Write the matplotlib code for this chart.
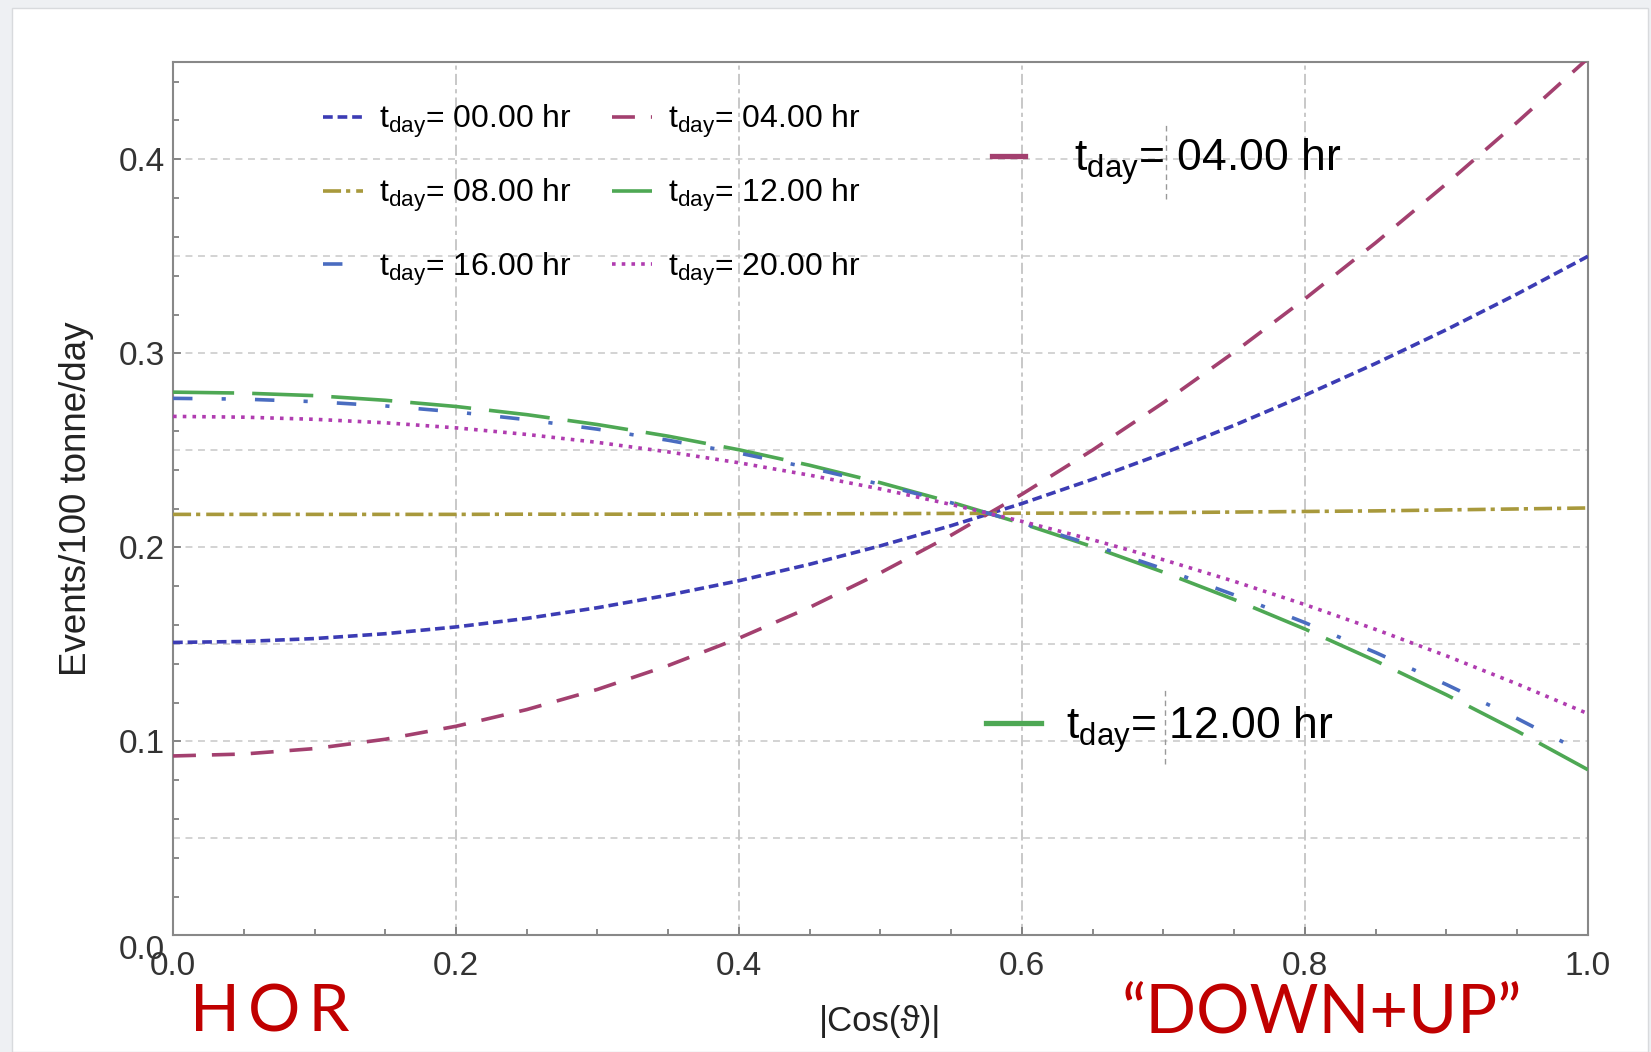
import matplotlib
matplotlib.use("Agg")
import matplotlib.pyplot as plt
from matplotlib.lines import Line2D
from matplotlib.patches import Rectangle

plt.rcParams["font.family"] = ["Liberation Sans", "DejaVu Sans"]
plt.rcParams["mathtext.fontset"] = "custom"
plt.rcParams["mathtext.rm"] = "Liberation Sans"
plt.rcParams["mathtext.default"] = "rm"
plt.rcParams["lines.scale_dashes"] = False

# |cos(theta)| sample points and event rates
cos_theta = [0.00, 0.05, 0.10, 0.15, 0.20, 0.25, 0.30, 0.35, 0.40, 0.45, 0.50,
             0.55, 0.60, 0.65, 0.70, 0.75, 0.80, 0.85, 0.90, 0.95, 1.00]
rate_00 = [0.1510, 0.1515, 0.1530, 0.1555, 0.1590, 0.1634, 0.1689, 0.1754, 0.1828, 0.1913, 0.2008,
           0.2112, 0.2226, 0.2351, 0.2485, 0.2629, 0.2784, 0.2948, 0.3122, 0.3306, 0.3500]
rate_04 = [0.0925, 0.0935, 0.0963, 0.1011, 0.1078, 0.1164, 0.1268, 0.1391, 0.1532, 0.1691, 0.1869,
           0.2063, 0.2274, 0.2502, 0.2746, 0.3006, 0.3281, 0.3570, 0.3874, 0.4191, 0.4520]
rate_08 = [0.2170, 0.2170, 0.2170, 0.2170, 0.2170, 0.2171, 0.2171, 0.2171, 0.2172, 0.2173, 0.2174,
           0.2175, 0.2176, 0.2177, 0.2179, 0.2182, 0.2185, 0.2188, 0.2193, 0.2198, 0.2203]
rate_12 = [0.2800, 0.2795, 0.2782, 0.2758, 0.2726, 0.2684, 0.2633, 0.2573, 0.2503, 0.2423, 0.2333,
           0.2233, 0.2123, 0.2003, 0.1872, 0.1731, 0.1579, 0.1415, 0.1240, 0.1053, 0.0854]
rate_16 = [0.2768, 0.2764, 0.2751, 0.2729, 0.2698, 0.2658, 0.2609, 0.2552, 0.2486, 0.2410, 0.2325,
           0.2230, 0.2126, 0.2012, 0.1889, 0.1755, 0.1612, 0.1458, 0.1293, 0.1118, 0.0931]
rate_20 = [0.2675, 0.2671, 0.2660, 0.2642, 0.2616, 0.2582, 0.2541, 0.2492, 0.2436, 0.2372, 0.2301,
           0.2221, 0.2134, 0.2039, 0.1936, 0.1825, 0.1705, 0.1577, 0.1441, 0.1296, 0.1143]
hours = ["00.00", "04.00", "08.00", "12.00", "16.00", "20.00"]

x_ticks = [0.0, 0.2, 0.4, 0.6, 0.8, 1.0]
y_ticks = [0.0, 0.1, 0.2, 0.3, 0.4]
y_grid = [0.05, 0.10, 0.15, 0.20, 0.25, 0.30, 0.35, 0.40]
x_grid = [0.2, 0.4, 0.6, 0.8]

colors = ["#3c3cb4", "#a3406f", "#a8993c", "#4ea854", "#4a6cc0", "#b03cb0"]
styles = [(0, (7, 3.5)), (0, (16.5, 11.5)), (0, (13, 3.6, 3, 4.3)),
          (0, (44, 13)), (0, (14, 21, 3, 21)), (0, (2.6, 4.4))]

fig = plt.figure(figsize=(16.51, 10.52), dpi=100, facecolor="#eef0f3")
fig.patches.append(Rectangle((12 / 1651, 0), 1636 / 1651, 1 - 8 / 1052,
                             transform=fig.transFigure, facecolor="white",
                             edgecolor="#d8dadd", lw=1, zorder=-5))
ax = fig.add_axes([0.1048, 0.1108, 0.857, 0.830])
ax.set_zorder(2)
ax.patch.set_alpha(0)

for v in y_grid:
    ax.axhline(v, color="#c8c8c8", lw=1.1, ls=(0, (5, 4)), zorder=1)
for v in x_grid:
    ax.axvline(v, color="#c4c4c4", lw=1.3, ls=(0, (8, 3, 3, 3)), zorder=1)

lines = []
for rate, hr, col, st in zip([rate_00, rate_04, rate_08, rate_12, rate_16, rate_20],
                             hours, colors, styles):
    ln, = ax.plot(cos_theta, rate, color=col, ls=st, lw=2.6,
                  label="t$_{day}$= " + hr + " hr", zorder=3)
    lines.append(ln)

ax.set_xlim(0, 1)
ax.set_ylim(0, 0.45)
ax.set_xticks(x_ticks)
ax.set_xticklabels([f"{v:.1f}" for v in x_ticks])
ax.set_yticks(y_ticks)
ax.set_yticklabels([f"{v:.1f}" for v in y_ticks])
ax.set_xticks([i * 0.05 for i in range(21)], minor=True)
ax.set_yticks([i * 0.02 for i in range(23)], minor=True)
ax.tick_params(which="both", direction="in", color="#777777", width=1.2)
ax.tick_params(which="major", length=6, labelsize=24, labelcolor="#333333")
ax.tick_params(which="minor", length=4)
ax.tick_params(axis="x", pad=11)
ax.tick_params(axis="y", pad=6)
ax.yaxis.get_major_ticks()[0].label1.set_verticalalignment("top")
for sp in ax.spines.values():
    sp.set_color("#888888")
    sp.set_linewidth(1.5)

order = [0, 2, 4, 1, 3, 5]
leg = ax.legend([lines[i] for i in order], [lines[i].get_label() for i in order],
                ncol=2, loc="upper left", bbox_to_anchor=(0.095, 0.972),
                frameon=False, fontsize=23, handlelength=1.25,
                handletextpad=0.5, columnspacing=1.25, labelspacing=1.15,
                borderpad=0)
ax.add_artist(leg)

# the two big call-out labels, each with a thin cursor-like mark after "="
leg_a = ax.legend([Line2D([], [], color=colors[1], lw=3.8)], ["t$_{day}$= 04.00 hr"],
                  loc="center left", bbox_to_anchor=(0.563, 0.886), frameon=False,
                  fontsize=32, handlelength=0.74, handletextpad=1.1, borderpad=0)
ax.add_artist(leg_a)
leg_b = ax.legend([Line2D([], [], color=colors[3], lw=3.8)], ["t$_{day}$= 12.00 hr"],
                  loc="center left", bbox_to_anchor=(0.559, 0.236), frameon=False,
                  fontsize=32, handlelength=1.24, handletextpad=0.55, borderpad=0)
for xc, yc in [(0.702, 0.886), (0.701, 0.239)]:
    ax.add_line(Line2D([xc, xc], [yc - 0.043, yc + 0.043], transform=ax.transAxes,
                       color="#999999", lw=1.0, ls=(0, (4, 3)), zorder=4))

fig.text(0.0466, 0.526, "Events/100 tonne/day", rotation=90, fontsize=26.5,
         ha="center", va="center", color="#222222")
fig.text(0.533, 0.029, "|Cos(\u03d1)|", fontsize=25, ha="center", va="center",
         color="#222222", family=["Liberation Sans", "DejaVu Sans"])

fig.text(0.115, 0.037, "H\u2009O\u2009R", fontsize=47, color="#c00000",
         family=["Lato", "DejaVu Sans"], ha="left", va="center")
fig.text(0.801, 0.037, "\u201cDOWN+UP\u201d", fontsize=48, color="#c00000",
         family="Lato", ha="center", va="center")

fig.savefig("out.png", dpi=100, facecolor=fig.get_facecolor())
